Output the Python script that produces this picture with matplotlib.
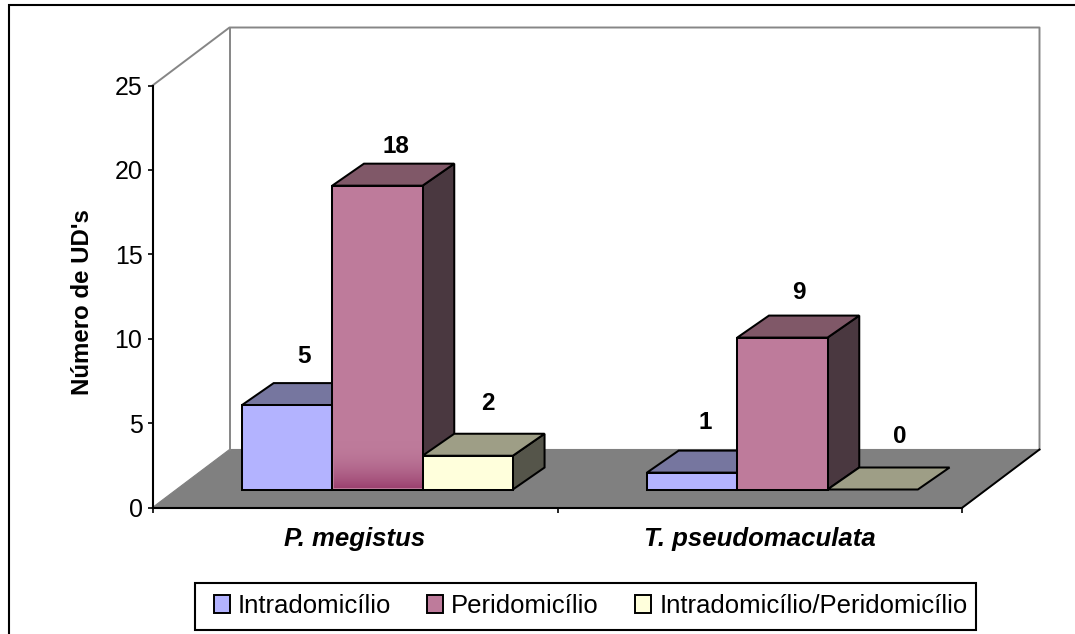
"""Oblique 3D clustered bars, drawn on a normal axes with a sheared depth."""
import numpy as np

import matplotlib
matplotlib.use("Agg")
import matplotlib.pyplot as plt
import matplotlib.patches as mpatches

categories = ["P. megistus", "T. pseudomaculata"]
series_names = ["Intradomicílio", "Peridomicílio", "Intradomicílio/Peridomicílio"]
intra = [5, 1]
peri = [18, 9]
intra_peri = [2, 0]
yticks = [0, 5, 10, 15, 20, 25]

W, H = 1075, 634
plt.rcParams["font.family"] = ["Liberation Sans", "DejaVu Sans"]

# plot front plane in pixels, rest of the layout hangs off it
X0, X1, Y0, Y1 = 152.5, 962.5, 507.5, 85.5
PX_X = (X1 - X0) / 2       # px per category
PX_Y = (Y0 - Y1) / 25      # px per unit
WALL_DX, WALL_DY = 77 / PX_X, 58 / PX_Y
BAR_W = 90.3 / PX_X
BAR_SHIFT = -1.5 / PX_X
BACK_EXTRA = 2.5 / PX_X    # bars lean slightly more than the walls
FRONT = 18 / 58            # depth fraction of bar front
BACK = 40 / 58             # depth fraction of bar back

# front, top, side colours per series
colors = [("#B3B3FF", "#76769F", "#3F3F5A"),
          ("#BE7B9B", "#805868", "#4A3840"),
          ("#FFFFDC", "#9E9E86", "#55554A")]
# label offset from the top-back centre of each bar, px
label_nudge = [[(-15, 27), (-13, 17), (-12, 30)],
               [(-19, 28), (-15, 23), (-5, 31)]]


def shift(x, y, d):
    return x + d * WALL_DX, y + d * WALL_DY


def back(x, y):
    return shift(x + BACK_EXTRA, y, BACK)


def box(ax, xl, val, cols):
    xr = xl + BAR_W
    kw = dict(edgecolor="black", linewidth=1.45, joinstyle="miter", clip_on=False)
    if val > 0:
        side = [shift(xr, 0, FRONT), back(xr, 0), back(xr, val), shift(xr, val, FRONT)]
        ax.add_patch(mpatches.Polygon(side, facecolor=cols[2], zorder=3, **kw))
    top = [shift(xl, val, FRONT), shift(xr, val, FRONT), back(xr, val), back(xl, val)]
    ax.add_patch(mpatches.Polygon(top, facecolor=cols[1], zorder=3, **kw))
    if val > 0:
        front = [shift(xl, 0, FRONT), shift(xr, 0, FRONT), shift(xr, val, FRONT), shift(xl, val, FRONT)]
        ax.add_patch(mpatches.Polygon(front, facecolor=cols[0], zorder=3, **kw))


fig = plt.figure(figsize=(W / 100, H / 100), dpi=100)
ax = fig.add_axes([X0 / W, 1 - Y0 / H, (X1 - X0) / W, (Y0 - Y1) / H])
ax.patch.set_alpha(0)
ax.set_xlim(0, 2)
ax.set_ylim(0, 25)

# outer frame, runs off the right and bottom of the picture
fig.add_artist(mpatches.Rectangle((9 / W, -20 / H), (W + 20) / W, (H + 20 - 5) / H, fill=False,
                                  edgecolor="black", linewidth=1.5,
                                  transform=fig.transFigure))

# floor and back walls
floor = [(0, 0), (2, 0), shift(2, 0, 1), shift(0, 0, 1)]
ax.add_patch(mpatches.Polygon(floor, facecolor="#808080", edgecolor="#808080",
                              linewidth=0.8, clip_on=False, zorder=1))
wall = [(0, 25), shift(0, 25, 1), shift(2, 25, 1), shift(2, 0, 1)]
xs, ys = zip(*wall)
ax.plot(xs, ys, color="#868686", lw=1.4, clip_on=False, zorder=1)
xs, ys = zip(shift(0, 0, 1), shift(0, 25, 1))
ax.plot(xs, ys, color="#868686", lw=1.4, clip_on=False, zorder=1)
xs, ys = zip((2, 0), shift(2, 0, 1))
ax.plot(xs, ys, color="black", lw=1.4, clip_on=False, zorder=2)

# bars
values = [intra, peri, intra_peri]
for c in range(len(categories)):
    left = c + 0.5 - 1.5 * BAR_W + BAR_SHIFT
    for s in range(3):
        xl = left + s * BAR_W
        box(ax, xl, values[s][c], colors[s])
        lx, ly = back(xl + BAR_W / 2, values[s][c])
        nx, ny = label_nudge[c][s]
        ax.annotate(str(values[s][c]), (lx, ly), xytext=(nx * 0.72, ny * 0.72),
                    textcoords="offset points", ha="center", va="center",
                    fontsize=17.5, fontweight="bold", annotation_clip=False, zorder=5)

# fade at the foot of the tallest bar
grad_h = 48 / PX_Y
ramp = np.linspace(0, 1, 48)[:, None] ** 2
c_top = np.array([0xBE, 0x7B, 0x9B])
c_foot = np.array([0x9C, 0x42, 0x70])
rgb = (c_top + ramp * (c_foot - c_top))[:, None, :] / 255
xl0, y_base = shift(0.5 - 0.5 * BAR_W + BAR_SHIFT, 0, FRONT)
ax.imshow(rgb, extent=(xl0 + 0.004, xl0 + BAR_W - 0.004, y_base + 0.06, y_base + grad_h),
          origin="upper", aspect="auto", zorder=3.5, clip_on=False, interpolation="bilinear")
ax.set_xlim(0, 2)
ax.set_ylim(0, 25)

# axes
for name in ("top", "right"):
    ax.spines[name].set_visible(False)
for name in ("left", "bottom"):
    ax.spines[name].set_linewidth(1.5)
    ax.spines[name].set_zorder(4)
ax.set_yticks(yticks)
ax.tick_params(axis="y", labelsize=18, length=3.6, width=1.2, pad=3.6)
ax.set_xticks([0, 1, 2])
ax.set_xticklabels([])
ax.set_xticks([0.5, 1.5], minor=True)
ax.set_xticklabels(categories, minor=True, fontsize=18.5, fontstyle="italic", fontweight="bold")
ax.tick_params(axis="x", which="major", length=3.6, width=1.2)
ax.tick_params(axis="x", which="minor", length=0, pad=14)
fig.text(83 / W, 1 - 302 / H, "Número de UD's", rotation=90, ha="center", va="center",
         fontsize=17.3, fontweight="bold")

# legend, frame drawn apart because its padding differs across and down
fig.add_artist(mpatches.Rectangle((195 / W, 1 - 629.5 / H), 781 / W, 46.5 / H, facecolor="white",
                                  edgecolor="black", linewidth=1.5,
                                  transform=fig.transFigure, zorder=5))
handles = [mpatches.Patch(facecolor=colors[i][0], edgecolor="black", linewidth=1.4)
           for i in range(3)]
leg = fig.legend(handles, series_names, ncol=3, loc="center",
                 bbox_to_anchor=(590.5 / W, 1 - 606 / H), fontsize=18.5, frameon=False,
                 handlelength=0.62, handleheight=0.66, handletextpad=0.32,
                 columnspacing=1.4, borderpad=0, borderaxespad=0)
leg.set_zorder(6)

fig.savefig("out.png", dpi=100)
plt.close(fig)
